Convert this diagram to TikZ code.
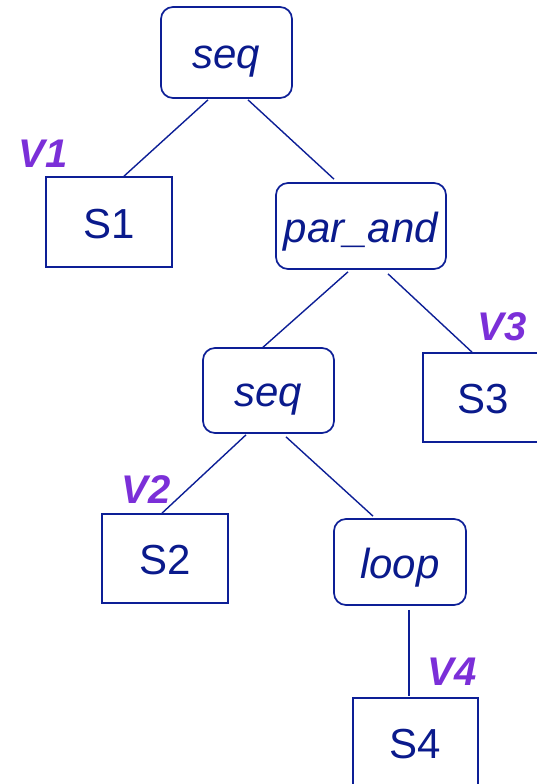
\documentclass[tikz,border=0pt]{standalone}
\usepackage{fontspec}
\setmainfont{Liberation Sans}
\usetikzlibrary{calc}
\definecolor{navy}{HTML}{0D1F96}
\definecolor{txt}{HTML}{0A1A8C}
\definecolor{vpurple}{HTML}{7B2FD8}
\tikzset{
  basebox/.style={draw=navy, line width=1.7pt, inner sep=0pt, text=txt,
    font=\fontsize{42}{46}\selectfont, text height=32pt, text depth=0pt, align=center},
  opbox/.style={basebox, rounded corners=12pt},
  leafbox/.style={basebox},
  edge/.style={draw=navy, line width=1.4pt},
  vlab/.style={text=vpurple, font=\fontsize{40}{44}\selectfont\bfseries\itshape, inner sep=0pt, anchor=base}
}
\begin{document}
\begin{tikzpicture}[x=1pt,y=-1pt]
\useasboundingbox (0,0) rectangle (536,784);
% operator boxes
\node[opbox, minimum width=131pt, minimum height=91pt] (seq) at (226.5,52.5) {\itshape seq};
\node[opbox, minimum width=170pt, minimum height=86pt] (par) at (361,226) {\itshape par\_and};
\node[opbox, minimum width=131pt, minimum height=85pt] (seqb) at (268.5,390.5) {\itshape seq};
\node[opbox, minimum width=132pt, minimum height=86pt] (loop) at (400,562) {\itshape loop};
% leaf boxes
\node[leafbox, minimum width=126pt, minimum height=90pt] (s1) at (109,222) {S1};
\node[leafbox, minimum width=120pt, minimum height=89pt] (s3) at (483,397.5) {S3};
\node[leafbox, minimum width=126pt, minimum height=89pt] (s2) at (165,558.5) {S2};
\node[leafbox, minimum width=125pt, minimum height=89pt] (s4) at (415.5,742.5) {S4};
% labels
\node[vlab] (v1) at (43,167) {V1};
\node[vlab] (v2) at (146,503) {V2};
\node[vlab] (v3) at (502,340) {V3};
\node[vlab] (v4) at (452,685) {V4};
% connectors
\draw[edge] ($(seq.south)+(-18.5,1)$) -- ($(s1.north)+(15,0)$);
\draw[edge] ($(seq.south)+(21.5,1)$) -- ($(par.north)+(-27,-3)$);
\draw[edge] ($(par.south)+(-13,2)$) -- ($(seqb.north)+(-6.5,1)$);
\draw[edge] ($(par.south)+(27,4)$) -- ($(s3.north)+(-11,0)$);
\draw[edge] ($(seqb.south)+(-22.5,1)$) -- ($(s2.north)+(-3,0)$);
\draw[edge] ($(seqb.south)+(17.5,3)$) -- ($(loop.north)+(-27,-2)$);
\draw[edge] ($(loop.south)+(9,4)$) -- ($(s4.north)+(-6.5,-1)$);
\end{tikzpicture}
\end{document}
